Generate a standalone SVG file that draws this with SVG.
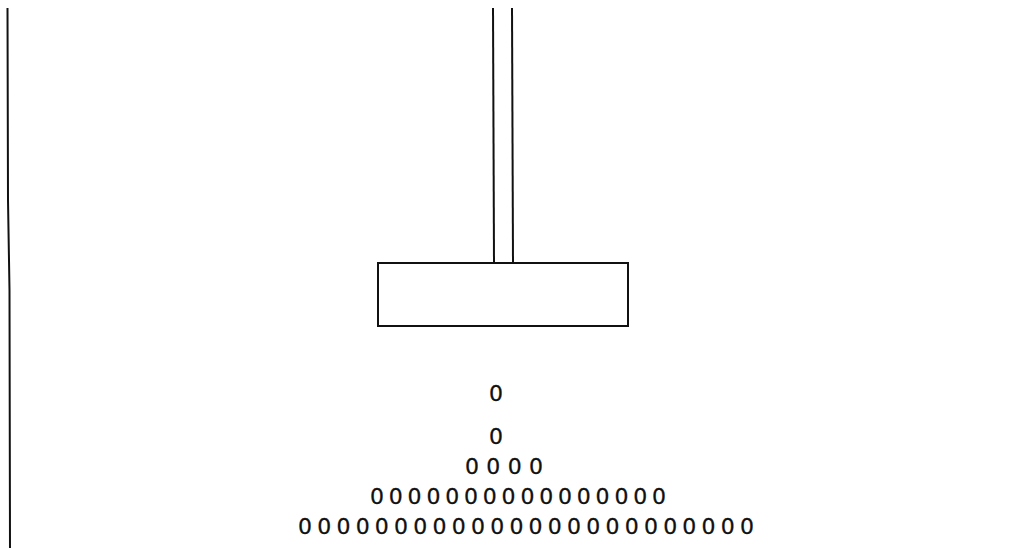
<svg xmlns="http://www.w3.org/2000/svg" width="1025" height="548" viewBox="0 0 1025 548">
<style>
.ln{fill:none;stroke:#111;stroke-width:2}
.t{font-family:"DejaVu Sans","Liberation Sans",sans-serif;font-size:22px;fill:#111;stroke:#111;stroke-width:0.3}
</style>
<rect width="1025" height="548" fill="#fff"/>
<g id="wall"><path class="ln" d="M7.5 8 L8 200 L9.5 290 L10 548"/></g>
<g id="connectors">
<line class="ln" x1="493" y1="8" x2="494" y2="263"/>
<line class="ln" x1="512" y1="8" x2="513" y2="263"/>
</g>
<g id="block"><rect class="ln" x="378" y="263" width="250" height="63"/></g>
<g id="particles">
<text class="t" x="496" y="401" text-anchor="middle">0</text>
<text class="t" x="496" y="444" text-anchor="middle">0</text>
<text class="t" x="465" y="474" textLength="78" lengthAdjust="spacing">0000</text>
<text class="t" x="370" y="504" textLength="296" lengthAdjust="spacing">0000000000000000</text>
<text class="t" x="298" y="534" textLength="456" lengthAdjust="spacing">000000000000000000000000</text>
</g>
</svg>
